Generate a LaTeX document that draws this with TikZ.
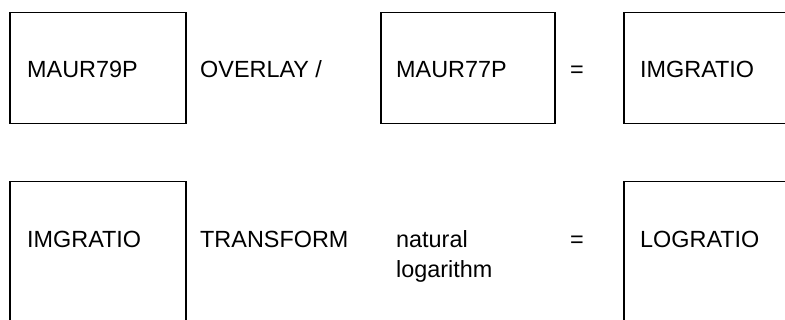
\documentclass[tikz,border=0pt]{standalone}
\usepackage{fontspec}
\setmainfont{Liberation Sans}
\usepackage{tikz}
\usetikzlibrary{positioning,calc}

\tikzset{
  box/.style={draw, line width=1.5pt, anchor=north west, inner sep=0pt,
    minimum width=176pt},
  word/.style={anchor=base west, inner sep=0pt, align=left,
    font=\fontsize{23.4}{30}\selectfont}
}

\begin{document}
\begin{tikzpicture}[x=1pt, y=1pt]
  \useasboundingbox (0,0) rectangle (785,320);
  \clip (0,0) rectangle (785,320);
  % first line
  \node[box, minimum height=111pt] (m79box) at (9,308) {};
  \node[box, minimum height=111pt, minimum width=174pt] (m77box) at (380,308) {};
  \node[box, minimum height=111pt] (img1box) at (623,308) {};
  \node[word] (m79) at (27,242) {MAUR79P};
  \node[word] (ovl) at (200,242) {OVERLAY /};
  \node[word] (m77) at (396,242) {MAUR77P};
  \node[word] (eq1) at (570,242) {=};
  \node[word] (img1) at (640,242) {IMGRATIO};
  % second line
  \node[box, minimum height=170pt] (img2box) at (9,139) {};
  \node[box, minimum height=170pt] (lgrbox) at (623,139) {};
  \node[word] (img2) at (27,72) {IMGRATIO};
  \node[word] (trf) at (200,72) {TRANSFORM};
  \node[word] (nlog) at (396,42) {natural\\logarithm};
  \node[word] (eq2) at (570,72) {=};
  \node[word] (lgr) at (640,72) {LOGRATIO};
\end{tikzpicture}
\end{document}
